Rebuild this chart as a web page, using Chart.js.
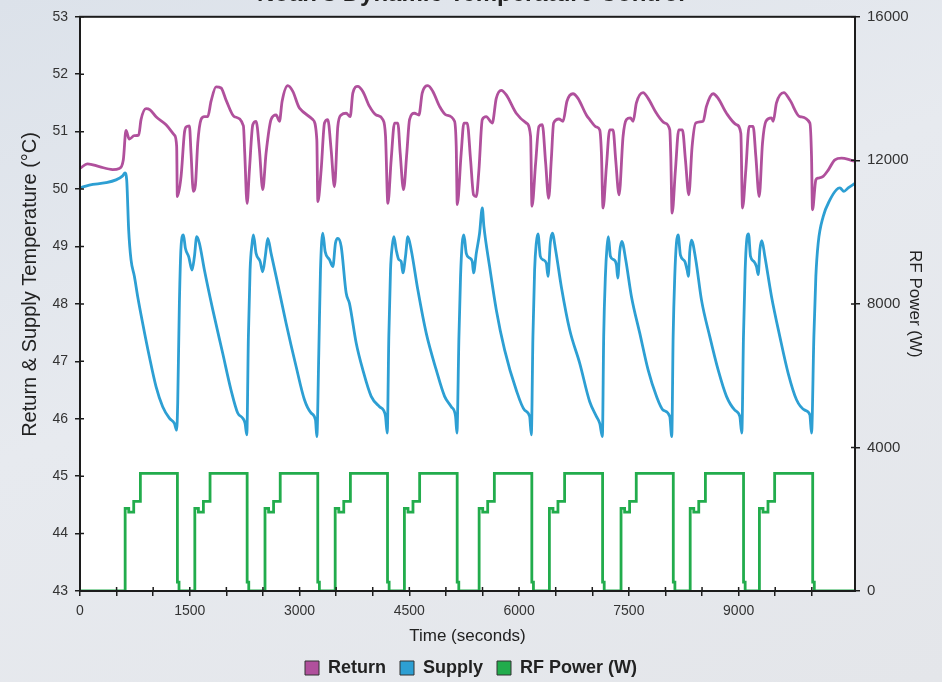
<!DOCTYPE html>
<html>
<head>
<meta charset="utf-8">
<script src="https://cdn.jsdelivr.net/npm/chart.js@4.4.1/dist/chart.umd.min.js"></script>
<style>
html,body{margin:0;padding:0;width:942px;height:682px;overflow:hidden;
  background:linear-gradient(160deg,#dce2ea 0%,#e7eaef 45%,#e4e6ea 100%);}
#wrap{position:absolute;left:0;top:0;width:942px;height:687px;}
</style>
</head>
<body>
<div id="wrap"><canvas id="c" width="942" height="687"></canvas></div>
<script>
// ---- Data (time in seconds) ----
const returnTime = [0,104,264,446,537,592,628,674,742,802,834,902,957,1039,1176,1290,1321,1330,1381,1426,1449,1495,1517,1549,1577,1609,1654,1700,1745,1791,1859,1928,1996,2110,2233,2251,2283,2315,2361,2406,2452,2497,2543,2611,2680,2725,2762,2839,2908,2999,3181,3236,3250,3295,3341,3386,3432,3477,3523,3569,3637,3692,3728,3796,3865,3956,4047,4138,4175,4207,4252,4298,4343,4375,4421,4466,4503,4571,4631,4676,4754,4822,4913,5004,5118,5141,5155,5209,5246,5291,5337,5378,5415,5451,5497,5551,5633,5688,5756,5825,5961,6098,6157,6176,6226,6271,6317,6363,6404,6440,6472,6545,6600,6654,6736,6805,6919,6965,7055,7102,7125,7147,7193,7238,7284,7320,7366,7421,7466,7521,7558,7603,7694,7763,7877,7991,8059,8073,8091,8136,8182,8232,8273,8319,8364,8414,8515,8560,8651,8720,8834,8971,9030,9053,9098,9144,9198,9235,9281,9326,9372,9449,9472,9517,9618,9700,9836,9973,9996,10009,10055,10087,10155,10224,10315,10406,10520,10590];
const returnTemp = [50.36,50.44,50.39,50.34,50.36,50.51,51.02,50.87,50.93,50.94,51.21,51.40,51.38,51.26,51.12,50.94,50.74,49.87,50.22,50.97,51.08,51.10,50.63,49.96,50.07,50.80,51.21,51.26,51.26,51.53,51.78,51.76,51.55,51.26,51.10,50.63,49.75,50.33,51.12,51.18,50.68,49.99,50.63,51.21,51.29,51.18,51.53,51.80,51.70,51.41,51.21,50.86,49.78,50.33,51.15,51.21,50.68,50.04,51.09,51.29,51.32,51.26,51.67,51.79,51.70,51.44,51.29,51.21,50.92,49.75,50.51,51.15,51.15,50.63,49.99,50.63,51.21,51.32,51.29,51.67,51.80,51.70,51.44,51.29,51.18,50.74,49.73,50.63,51.15,51.15,50.51,49.90,49.87,50.33,51.21,51.26,51.15,51.58,51.72,51.64,51.32,51.15,50.92,49.70,50.45,51.09,51.12,50.45,49.84,50.51,51.15,51.22,51.18,51.53,51.66,51.58,51.29,51.21,51.08,51.03,50.63,49.67,50.39,51.03,51.03,50.51,49.90,50.92,51.21,51.24,51.18,51.50,51.68,51.58,51.32,51.15,51.03,50.57,49.58,50.33,51.03,51.03,50.51,49.90,50.74,51.15,51.18,51.44,51.66,51.58,51.32,51.12,50.97,49.67,50.33,51.09,51.09,50.57,49.87,50.80,51.18,51.24,51.18,51.50,51.68,51.55,51.26,51.15,50.57,49.64,50.16,50.19,50.22,50.33,50.51,50.54,50.51,50.48];

const supplyTime = [0,127,355,492,583,615,638,665,697,743,788,857,948,1039,1130,1221,1290,1321,1335,1358,1381,1413,1440,1486,1531,1563,1595,1631,1700,1814,1950,2064,2155,2224,2256,2279,2301,2324,2352,2370,2406,2461,2497,2534,2566,2611,2680,2817,2953,3067,3158,3218,3236,3263,3286,3318,3350,3409,3455,3491,3523,3569,3637,3682,3774,3865,3979,4093,4147,4175,4198,4220,4243,4266,4289,4321,4357,4389,4412,4448,4480,4526,4617,4731,4868,4982,5073,5132,5150,5178,5200,5223,5246,5278,5323,5360,5378,5415,5460,5497,5519,5597,5688,5802,5961,6075,6144,6167,6189,6212,6235,6258,6290,6326,6372,6395,6426,6454,6499,6577,6691,6828,6964,7056,7102,7138,7156,7179,7202,7220,7248,7293,7330,7348,7375,7403,7457,7535,7649,7763,7877,7968,8059,8086,8105,8127,8150,8173,8205,8264,8296,8314,8332,8355,8414,8492,8606,8720,8834,8948,9016,9043,9066,9089,9116,9135,9162,9208,9244,9267,9290,9317,9358,9449,9563,9677,9791,9905,9973,9996,10028,10055,10087,10155,10247,10338,10384,10438,10497,10590];
const supplyTemp = [50.02,50.07,50.11,50.16,50.23,50.28,50.16,49.29,48.77,48.48,48.13,47.66,47.08,46.56,46.21,46.01,45.92,45.80,46.27,48.01,49.00,49.20,48.97,48.82,48.59,48.82,49.17,49.06,48.59,47.90,47.14,46.50,46.10,46.01,45.92,45.72,47.43,48.59,49.06,49.20,48.88,48.74,48.56,48.85,49.14,48.88,48.48,47.66,46.91,46.33,46.10,45.98,45.69,47.14,48.59,49.23,48.91,48.77,48.65,49.06,49.14,49.00,48.19,48.01,47.32,46.85,46.39,46.21,46.15,46.04,45.75,47.43,48.59,49.00,49.17,48.94,48.77,48.74,48.54,48.83,49.17,48.94,48.24,47.49,46.85,46.39,46.21,46.04,45.75,47.43,48.48,49.06,49.20,48.88,48.80,48.74,48.54,48.88,49.23,49.67,49.35,48.65,47.90,47.20,46.50,46.15,46.04,45.72,47.43,48.59,49.06,49.22,48.83,48.77,48.71,48.48,49.06,49.23,48.94,48.30,47.55,46.97,46.30,46.04,45.92,45.69,47.43,48.48,49.00,49.17,48.83,48.77,48.68,48.45,48.91,49.09,48.77,48.13,47.49,46.85,46.39,46.15,46.04,45.69,47.43,48.48,49.06,49.20,48.85,48.74,48.59,48.48,48.91,49.11,48.77,48.07,47.43,46.85,46.39,46.15,46.04,45.75,47.43,48.59,49.17,49.22,48.83,48.74,48.65,48.51,48.94,49.10,48.83,48.13,47.43,46.79,46.33,46.15,46.07,45.75,47.43,48.48,49.06,49.52,49.81,49.99,50.02,49.96,50.02,50.10];

const rfTime = [0,617,666,734,825,1331,1353,1569,1618,1686,1777,2284,2306,2528,2577,2645,2736,3249,3271,3487,3536,3604,3695,4202,4224,4433,4482,4550,4641,5154,5176,5454,5503,5571,5662,6174,6196,6414,6463,6531,6622,7141,7163,7393,7442,7510,7601,8107,8129,8338,8387,8455,8546,9067,9089,9284,9333,9401,9492,10012,10034,10590];
const rfPower = [0,2300,2200,2500,3280,250,0,2300,2200,2500,3280,250,0,2300,2200,2500,3280,250,0,2300,2200,2500,3280,250,0,2300,2200,2500,3280,250,0,2300,2200,2500,3280,250,0,2300,2200,2500,3280,250,0,2300,2200,2500,3280,250,0,2300,2200,2500,3280,250,0,2300,2200,2500,3280,250,0,0];

const xTicks = [0,500,1000,1500,2000,2500,3000,3500,4000,4500,5000,5500,6000,6500,7000,7500,8000,8500,9000,9500,10000];
const xLabelTicks = [0,1500,3000,4500,6000,7500,9000];
const tempTicks = [43,44,45,46,47,48,49,50,51,52,53];
const powerTicks = [0,4000,8000,12000,16000];

const FAM = '"Liberation Sans", Arial, Helvetica, sans-serif';
const AXIS = '#1c1c1c';

const framePlugin = {
  id: 'frame',
  beforeDraw(chart) {
    const {ctx, chartArea: a} = chart;
    ctx.save();
    ctx.fillStyle = '#ffffff';
    ctx.fillRect(a.left, a.top, a.right - a.left, a.bottom - a.top);
    ctx.restore();
  },
  afterDatasetsDraw(chart) {
    const {ctx, chartArea: a, scales} = chart;
    ctx.save();
    ctx.strokeStyle = AXIS;
    ctx.lineWidth = 1.5;
    ctx.beginPath();
    scales.x.ticks.forEach((t, i) => {
      const p = scales.x.getPixelForTick(i);
      ctx.moveTo(p, a.bottom); ctx.lineTo(p, a.bottom - 4);
    });
    scales.y.ticks.forEach((t, i) => {
      const p = scales.y.getPixelForTick(i);
      ctx.moveTo(a.left, p); ctx.lineTo(a.left + 4, p);
    });
    scales.y1.ticks.forEach((t, i) => {
      const p = scales.y1.getPixelForTick(i);
      ctx.moveTo(a.right, p); ctx.lineTo(a.right - 4, p);
    });
    ctx.stroke();
    ctx.lineWidth = 2;
    ctx.strokeRect(a.left, a.top, a.right - a.left, a.bottom - a.top);
    ctx.restore();
  }
};

const toXY = (xs, ys) => xs.map((x, i) => ({x: x, y: ys[i]}));

const gridOpts = {display: true, drawOnChartArea: false, drawTicks: true, tickLength: 5, color: AXIS, lineWidth: 1.5};

new Chart(document.getElementById('c'), {
  type: 'line',
  data: {
    datasets: [
      {label: 'Return', data: toXY(returnTime, returnTemp), borderColor: '#b0509c', backgroundColor: '#b0509c',
       borderWidth: 2.8, pointRadius: 0, cubicInterpolationMode: 'monotone', yAxisID: 'y'},
      {label: 'Supply', data: toXY(supplyTime, supplyTemp), borderColor: '#2d9fd3', backgroundColor: '#2d9fd3',
       borderWidth: 2.8, pointRadius: 0, cubicInterpolationMode: 'monotone', yAxisID: 'y'},
      {label: 'RF Power (W)', data: toXY(rfTime, rfPower), borderColor: '#22ac4c', backgroundColor: '#22ac4c',
       borderWidth: 2.8, pointRadius: 0, stepped: true, yAxisID: 'y1'}
    ]
  },
  options: {
    responsive: false,
    animation: false,
    devicePixelRatio: 1,
    layout: {padding: 0},
    scales: {
      x: {
        type: 'linear', position: 'bottom', min: 0, max: 10590,
        afterBuildTicks: s => { s.ticks = xTicks.map(v => ({value: v})); },
        ticks: {autoSkip: false, maxRotation: 0, color: '#333', font: {family: FAM, size: 14}, padding: 7,
                callback: v => (xLabelTicks.includes(v) ? String(v) : '')},
        grid: gridOpts,
        border: {display: false},
        title: {display: true, text: 'Time (seconds)', color: '#222', font: {family: FAM, size: 17}, padding: {top: 0, bottom: -2}},
        afterFit: s => { s.height = 54; }
      },
      y: {
        type: 'linear', position: 'left', min: 43, max: 53,
        afterBuildTicks: s => { s.ticks = tempTicks.map(v => ({value: v})); },
        ticks: {color: '#333', font: {family: FAM, size: 14}, padding: 7, callback: v => String(v)},
        grid: gridOpts,
        border: {display: false},
        title: {display: true, text: '       Return & Supply Temperature (°C)', color: '#222', font: {family: FAM, size: 20}, padding: {top: 18, bottom: 0}},
        afterFit: s => { s.width = 80; }
      },
      y1: {
        type: 'linear', position: 'right', min: 0, max: 16000,
        afterBuildTicks: s => { s.ticks = powerTicks.map(v => ({value: v})); },
        ticks: {color: '#333', font: {family: FAM, size: 15}, padding: 7, callback: v => String(v)},
        grid: gridOpts,
        border: {display: false},
        title: {display: true, text: 'RF Power (W)', color: '#222', font: {family: FAM, size: 17}, padding: {top: 17, bottom: 0}},
        afterFit: s => { s.width = 87; }
      }
    },
    plugins: {
      title: {display: true, text: "Noah's Dynamic Temperature Control", color: '#222',
              font: {family: FAM, size: 24, weight: 'bold'}, padding: {top: -20, bottom: 8}},
      legend: {
        position: 'bottom',
        labels: {
          boxWidth: 14, boxHeight: 14, padding: 14, color: '#222',
          font: {family: FAM, size: 18, weight: 'bold'},
          generateLabels: chart => chart.data.datasets.map((d, i) => ({
            text: d.label, fillStyle: d.borderColor, strokeStyle: '#333', lineWidth: 1,
            hidden: false, datasetIndex: i, fontColor: '#222'
          }))
        }
      },
      tooltip: {enabled: false}
    }
  },
  plugins: [framePlugin]
});
</script>
</body>
</html>
